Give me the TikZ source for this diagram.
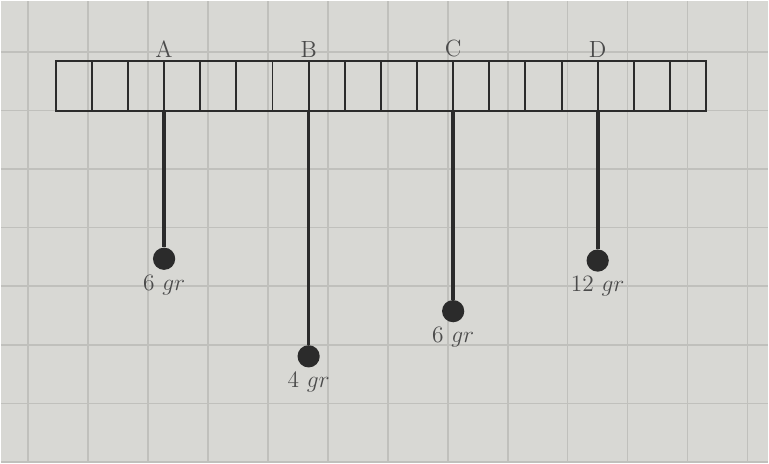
\documentclass[tikz,border=0pt]{standalone}
\usetikzlibrary{positioning}
\definecolor{paper}{HTML}{D8D8D4}
\definecolor{gridline}{HTML}{C0C0BC}
\definecolor{ink}{HTML}{2B2B2B}

\begin{document}
\begin{tikzpicture}[
    x=0.65cm, y=0.65cm,
    beam/.style={draw=ink, line width=1pt},
    rod/.style={draw=ink, line width=1.9pt},
    bob/.style={circle, fill=ink, inner sep=0pt, minimum size=0.4cm},
    mass/.style={font=\large, text=ink!85, inner sep=2pt},
    point/.style={font=\large, text=ink!85, inner sep=1.5pt}
]

%% ------------------------------------------------
%% Papier mit Karoraster
%% ------------------------------------------------
\fill[paper] (-1.52, 3.04) rectangle (19.72, -9.75);
\foreach \x in {0,...,12} {
    \draw[gridline, line width=0.8pt] (-0.77+1.66*\x, -9.75) -- ++(0, 12.79);
}
\foreach \y in {-6,...,1} {
    \draw[gridline, line width=0.8pt] (-1.52, 1.62*\y) -- (19.72, 1.62*\y);
}

%% ------------------------------------------------
%% Stab mit 18 Feldern
%% ------------------------------------------------
\def\barheight{1.38}
\draw[beam] (0, 0) rectangle (18, \barheight);
\foreach \x in {1,...,17} {
    \draw[beam] (\x, 0) -- (\x, \barheight);
}

%% --- Aufhaengepunkte ---
\coordinate (hA) at (3, 0);
\coordinate (hB) at (7, 0);
\coordinate (hC) at (11, 0);
\coordinate (hD) at (15, 0);

\node[point, anchor=south] (lA) at (3, \barheight) {A};
\node[point, anchor=south] (lB) at (7, \barheight) {B};
\node[point, anchor=south] (lC) at (11, \barheight) {C};
\node[point, anchor=south] (lD) at (15, \barheight) {D};

%% --- Gewichte ---
\node[bob] (bA) at (3, -4.10) {};
\node[bob] (bB) at (7, -6.80) {};
\node[bob] (bC) at (11, -5.55) {};
\node[bob] (bD) at (15, -4.15) {};

\draw[rod] (hA) -- (bA);
\draw[rod] (hB) -- (bB);
\draw[rod] (hC) -- (bC);
\draw[rod] (hD) -- (bD);

\node[mass, below=0pt of bA] (mA) {6 $gr$};
\node[mass, below=0pt of bB] (mB) {4 $gr$};
\node[mass, below=0pt of bC] (mC) {6 $gr$};
\node[mass, below=0pt of bD] (mD) {12 $gr$};

\end{tikzpicture}
\end{document}
